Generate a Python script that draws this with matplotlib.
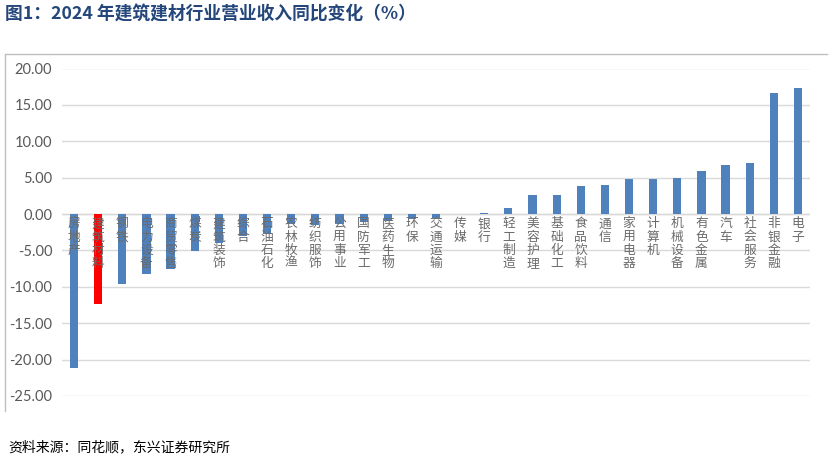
import matplotlib
matplotlib.use("Agg")
import matplotlib.pyplot as plt
from matplotlib.lines import Line2D

plt.rcParams['font.family'] = ['Noto Sans CJK SC', 'DejaVu Sans']

categories = ["房地产", "建筑材料", "钢铁", "电力设备", "商贸零售", "煤炭", "建筑装饰", "综合",
              "石油石化", "农林牧渔", "纺织服饰", "公用事业", "国防军工", "医药生物", "环保",
              "交通运输", "传媒", "银行", "轻工制造", "美容护理", "基础化工", "食品饮料", "通信",
              "家用电器", "计算机", "机械设备", "有色金属", "汽车", "社会服务", "非银金融", "电子"]
values = [-21.1, -12.3, -9.6, -8.3, -7.5, -5.1, -4.0, -3.0,
          -2.7, -1.4, -1.5, -1.4, -1.05, -1.0, -0.7,
          -0.6, -0.02, 0.2, 0.9, 2.6, 2.6, 3.9, 4.0,
          4.75, 4.75, 5.0, 5.9, 6.75, 7.0, 16.6, 17.35]
highlight = "建筑材料"
yticks = [20, 15, 10, 5, 0, -5, -10, -15, -20, -25]

fig = plt.figure(figsize=(8.32, 4.62), dpi=100)
ax = fig.add_axes([62/832, 1-396/462, (810-62)/832, (396-68.5)/462])

colors = ['#ff0000' if c == highlight else '#4f81bd' for c in categories]
x = list(range(len(categories)))
ax.bar(x, values, width=0.34, color=colors, zorder=3)
ax.set_xlim(-0.5, len(categories)-0.5)
ax.set_ylim(-25, 20)
ax.set_yticks(yticks)
ax.set_yticklabels([f"{v:.2f}" for v in yticks], color='#595959', fontsize=10.5,
                   family=['Lato', 'DejaVu Sans'])
ax.tick_params(axis='y', length=0, pad=7)
ax.set_xticks([])
for s in ax.spines.values():
    s.set_visible(False)
ax.yaxis.grid(True, color='#d9d9d9', linewidth=1, zorder=0)
ax.set_axisbelow(True)
ax.axhline(0, color='#d9d9d9', linewidth=1, zorder=2)

for xi, c in zip(x, categories):
    ax.text(xi, -0.45, "\n".join(c), ha='center', va='top', fontsize=9.2,
            color='#6b6b6b', linespacing=1.02, zorder=4)

# frame lines (top and left)
fig.add_artist(Line2D([5/832, 827/832], [1-53.7/462, 1-53.7/462], color='#bfbfbf', lw=1))
fig.add_artist(Line2D([5/832, 5/832], [1-53.7/462, 1-411/462], color='#bfbfbf', lw=1))

fig.text(5/832, 1-15/462, "图1：2024 年建筑建材行业营业收入同比变化（%）", ha='left', va='center',
         fontsize=12.8, fontweight='bold', color='#24467a')
fig.text(8/832, 1-447/462, "资料来源：同花顺，东兴证券研究所", ha='left', va='center',
         fontsize=10, style='italic', color='#000000')

fig.savefig("out.png", dpi=100)
